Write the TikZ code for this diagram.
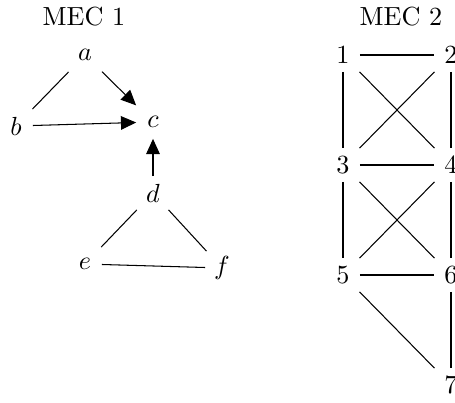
\documentclass[tikz,border=0pt]{standalone}
\usetikzlibrary{arrows.meta}
\begin{document}
\begin{tikzpicture}[x=0.382pt,y=-0.382pt,
  vtx/.style={inner sep=0pt, minimum size=12.5pt},
  und/.style={line width=0.4pt},
  dirarr/.style={line width=0.4pt,-{Triangle[length=5.8pt,width=5.2pt]}},
  ttl/.style={inner sep=0pt}]
\useasboundingbox (0,0) rectangle (455,403);
% titles
\node[ttl] (t1) at (84,17) {MEC 1};
\node[ttl] (t2) at (401,17) {MEC 2};
% MEC 1
\node[vtx] (a) at (85,55) {$a$};
\node[vtx] (b) at (16,126) {$b$};
\node[vtx] (c) at (153,122) {$c$};
\node[vtx] (d) at (153,193) {$d$};
\node[vtx] (e) at (85,264) {$e$};
\node[vtx] (f) at (222,268) {$f$};
\draw[und] (a) -- (b);
\draw[dirarr] (a) -- (c);
\draw[dirarr] (b) -- (c);
\draw[dirarr] (d) -- (c);
\draw[und] (d) -- (e);
\draw[und] (d) -- (f);
\draw[und] (e) -- (f);
% MEC 2
\node[vtx] (n1) at (343,55) {$1$};
\node[vtx] (n2) at (451,55) {$2$};
\node[vtx] (n3) at (343,165) {$3$};
\node[vtx] (n4) at (451,165) {$4$};
\node[vtx] (n5) at (343,275) {$5$};
\node[vtx] (n6) at (451,275) {$6$};
\node[vtx] (n7) at (451,385) {$7$};
\draw[und] (n1) -- (n2);
\draw[und] (n1) -- (n3);
\draw[und] (n1) -- (n4);
\draw[und] (n2) -- (n3);
\draw[und] (n2) -- (n4);
\draw[und] (n3) -- (n4);
\draw[und] (n3) -- (n5);
\draw[und] (n3) -- (n6);
\draw[und] (n4) -- (n5);
\draw[und] (n4) -- (n6);
\draw[und] (n5) -- (n6);
\draw[und] (n5) -- (n7);
\draw[und] (n6) -- (n7);
\end{tikzpicture}
\end{document}
